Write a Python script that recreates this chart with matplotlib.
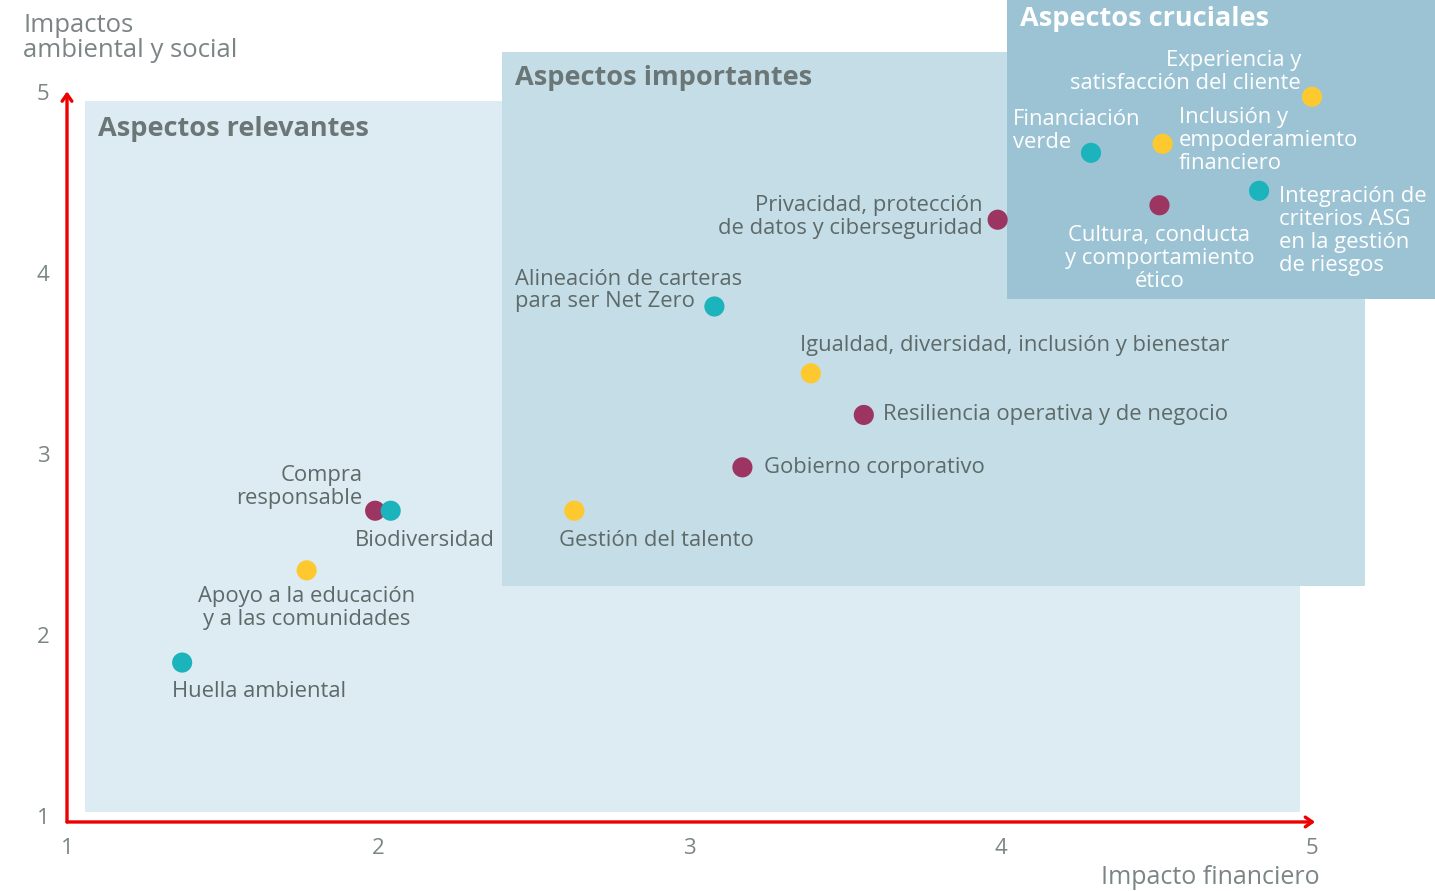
import matplotlib
matplotlib.use("Agg")
import matplotlib.pyplot as plt
from matplotlib.patches import Rectangle

plt.rcParams['font.family'] = ['Open Sans', 'DejaVu Sans']

# --- data -------------------------------------------------------------
names = [
    "Huella ambiental",
    "Apoyo a la educación\ny a las comunidades",
    "Compra\nresponsable",
    "Biodiversidad",
    "Gestión del talento",
    "Gobierno corporativo",
    "Resiliencia operativa y de negocio",
    "Igualdad, diversidad, inclusión y bienestar",
    "Alineación de carteras\npara ser Net Zero",
    "Privacidad, protección\nde datos y ciberseguridad",
    "Cultura, conducta\ny comportamiento\nético",
    "Financiación\nverde",
    "Inclusión y\nempoderamiento\nfinanciero",
    "Experiencia y\nsatisfacción del cliente",
    "Integración de\ncriterios ASG\nen la gestión\nde riesgos",
]
fin_impact = [1.37, 1.77, 1.99, 2.04, 2.63, 3.17, 3.56, 3.39, 3.08, 3.99, 4.51, 4.29, 4.52, 5.00, 4.83]
esg_impact = [1.86, 2.37, 2.70, 2.70, 2.70, 2.94, 3.23, 3.46, 3.83, 4.31, 4.39, 4.68, 4.73, 4.99, 4.47]
group = ["amb", "soc", "gob", "amb", "soc", "gob", "gob", "soc", "amb", "gob", "gob", "amb", "soc", "soc", "amb"]

# quadrants: name, x0, x1, y0, y1
regions = [
    ("Aspectos relevantes", 1.058, 4.96, 1.033, 4.967),
    ("Aspectos importantes", 2.398, 5.17, 2.284, 5.238),
    ("Aspectos cruciales", 4.02, 5.40, 3.87, 5.53),
]
ticks = [1, 2, 3, 4, 5]

# --- styles -----------------------------------------------------------
COLORS = {"amb": "#1bb3bc", "soc": "#fec82f", "gob": "#9c3562"}
REGION_COLORS = ["#ddecf2", "#c4dde6", "#9cc3d4"]
REGION_TITLE_COLORS = ["#6b7677", "#6b7677", "#ffffff"]
REGION_TITLE_DY = [-28, -26, -20]
TEXT = "#5d6a69"
AXIS_TEXT = "#7b8585"
RED = "#ec0000"
FS = 15.8

# label placement (offset in pixels, ha)
label_pos = [
    (-10, -29, "left"),
    (0, -38, "center"),
    (-13, 24, "right"),
    (104, -30, "right"),
    (-15, -30, "left"),
    (22, 0, "left"),
    (19, 0, "left"),
    (-11, 28, "left"),
    (-199, 16, "left"),
    (-15, 3, "right"),
    (0, -53, "center"),
    (-78, 22, "left"),
    (16, 3, "left"),
    (-11, 25, "right"),
    (20, -40, "left"),
]

W, H = 1435, 891
fig = plt.figure(figsize=(W / 100, H / 100), dpi=100)
ax = fig.add_axes([0, 0, 1, 1])

# pixel <-> data mapping of the reference
px_per_x = 311.25
px_per_y = 180.75
ax.set_xlim(1 - 67 / px_per_x, 1 + (W - 67) / px_per_x)
ax.set_ylim(1 - (H - 818) / px_per_y, 1 + 818 / px_per_y)
ax.axis("off")

for (title, x0, x1, y0, y1), fc, tc, tdy in zip(regions, REGION_COLORS, REGION_TITLE_COLORS,
                                                REGION_TITLE_DY):
    ax.add_patch(Rectangle((x0, y0), x1 - x0, y1 - y0, facecolor=fc, edgecolor="none", zorder=1))
    ax.annotate(title, xy=(x0, y1), xytext=(13, tdy), textcoords="offset pixels",
                ha="left", va="center", fontsize=19.5, fontweight="bold", color=tc, zorder=5,
                annotation_clip=False)

# axes arrows
arrow = dict(arrowstyle="->,head_length=0.5,head_width=0.35", color=RED, lw=2.4,
             shrinkA=0, shrinkB=0)
ax.annotate("", xy=(1, 5.02), xytext=(1, 0.978), arrowprops=arrow, zorder=4)
ax.annotate("", xy=(5.01, 0.978), xytext=(1, 0.978), arrowprops=arrow, zorder=4)

for t in ticks:
    ax.text(t, 0.83, str(t), ha="center", va="center", fontsize=16, color=AXIS_TEXT)
    ax.annotate(str(t), xy=(1, t), xytext=(-24, 0), textcoords="offset pixels",
                ha="center", va="center", fontsize=16, color=AXIS_TEXT)

ax.annotate("Impacto financiero", xy=(5, 0.978), xytext=(8, -56), textcoords="offset pixels",
            ha="right", va="center", fontsize=18, color=AXIS_TEXT, annotation_clip=False)
ax.annotate("Impactos\nambiental y social", xy=(1, 5), xytext=(-44, 57), textcoords="offset pixels",
            ha="left", va="center", fontsize=18.5, color=AXIS_TEXT, linespacing=1.05)

# points
for x, y, g in zip(fin_impact, esg_impact, group):
    ax.scatter(x, y, s=210, color=COLORS[g], edgecolors="none", zorder=6)

for name, x, y, (dx, dy, ha) in zip(names, fin_impact, esg_impact, label_pos):
    white = x > 4.1 and y > 4.35
    ax.annotate(name, xy=(x, y), xytext=(dx, dy), textcoords="offset pixels",
                ha=ha, va="center", fontsize=FS, color="#ffffff" if white else TEXT,
                linespacing=1.12, multialignment=ha, zorder=7)

fig.savefig("out.png", dpi=100)
